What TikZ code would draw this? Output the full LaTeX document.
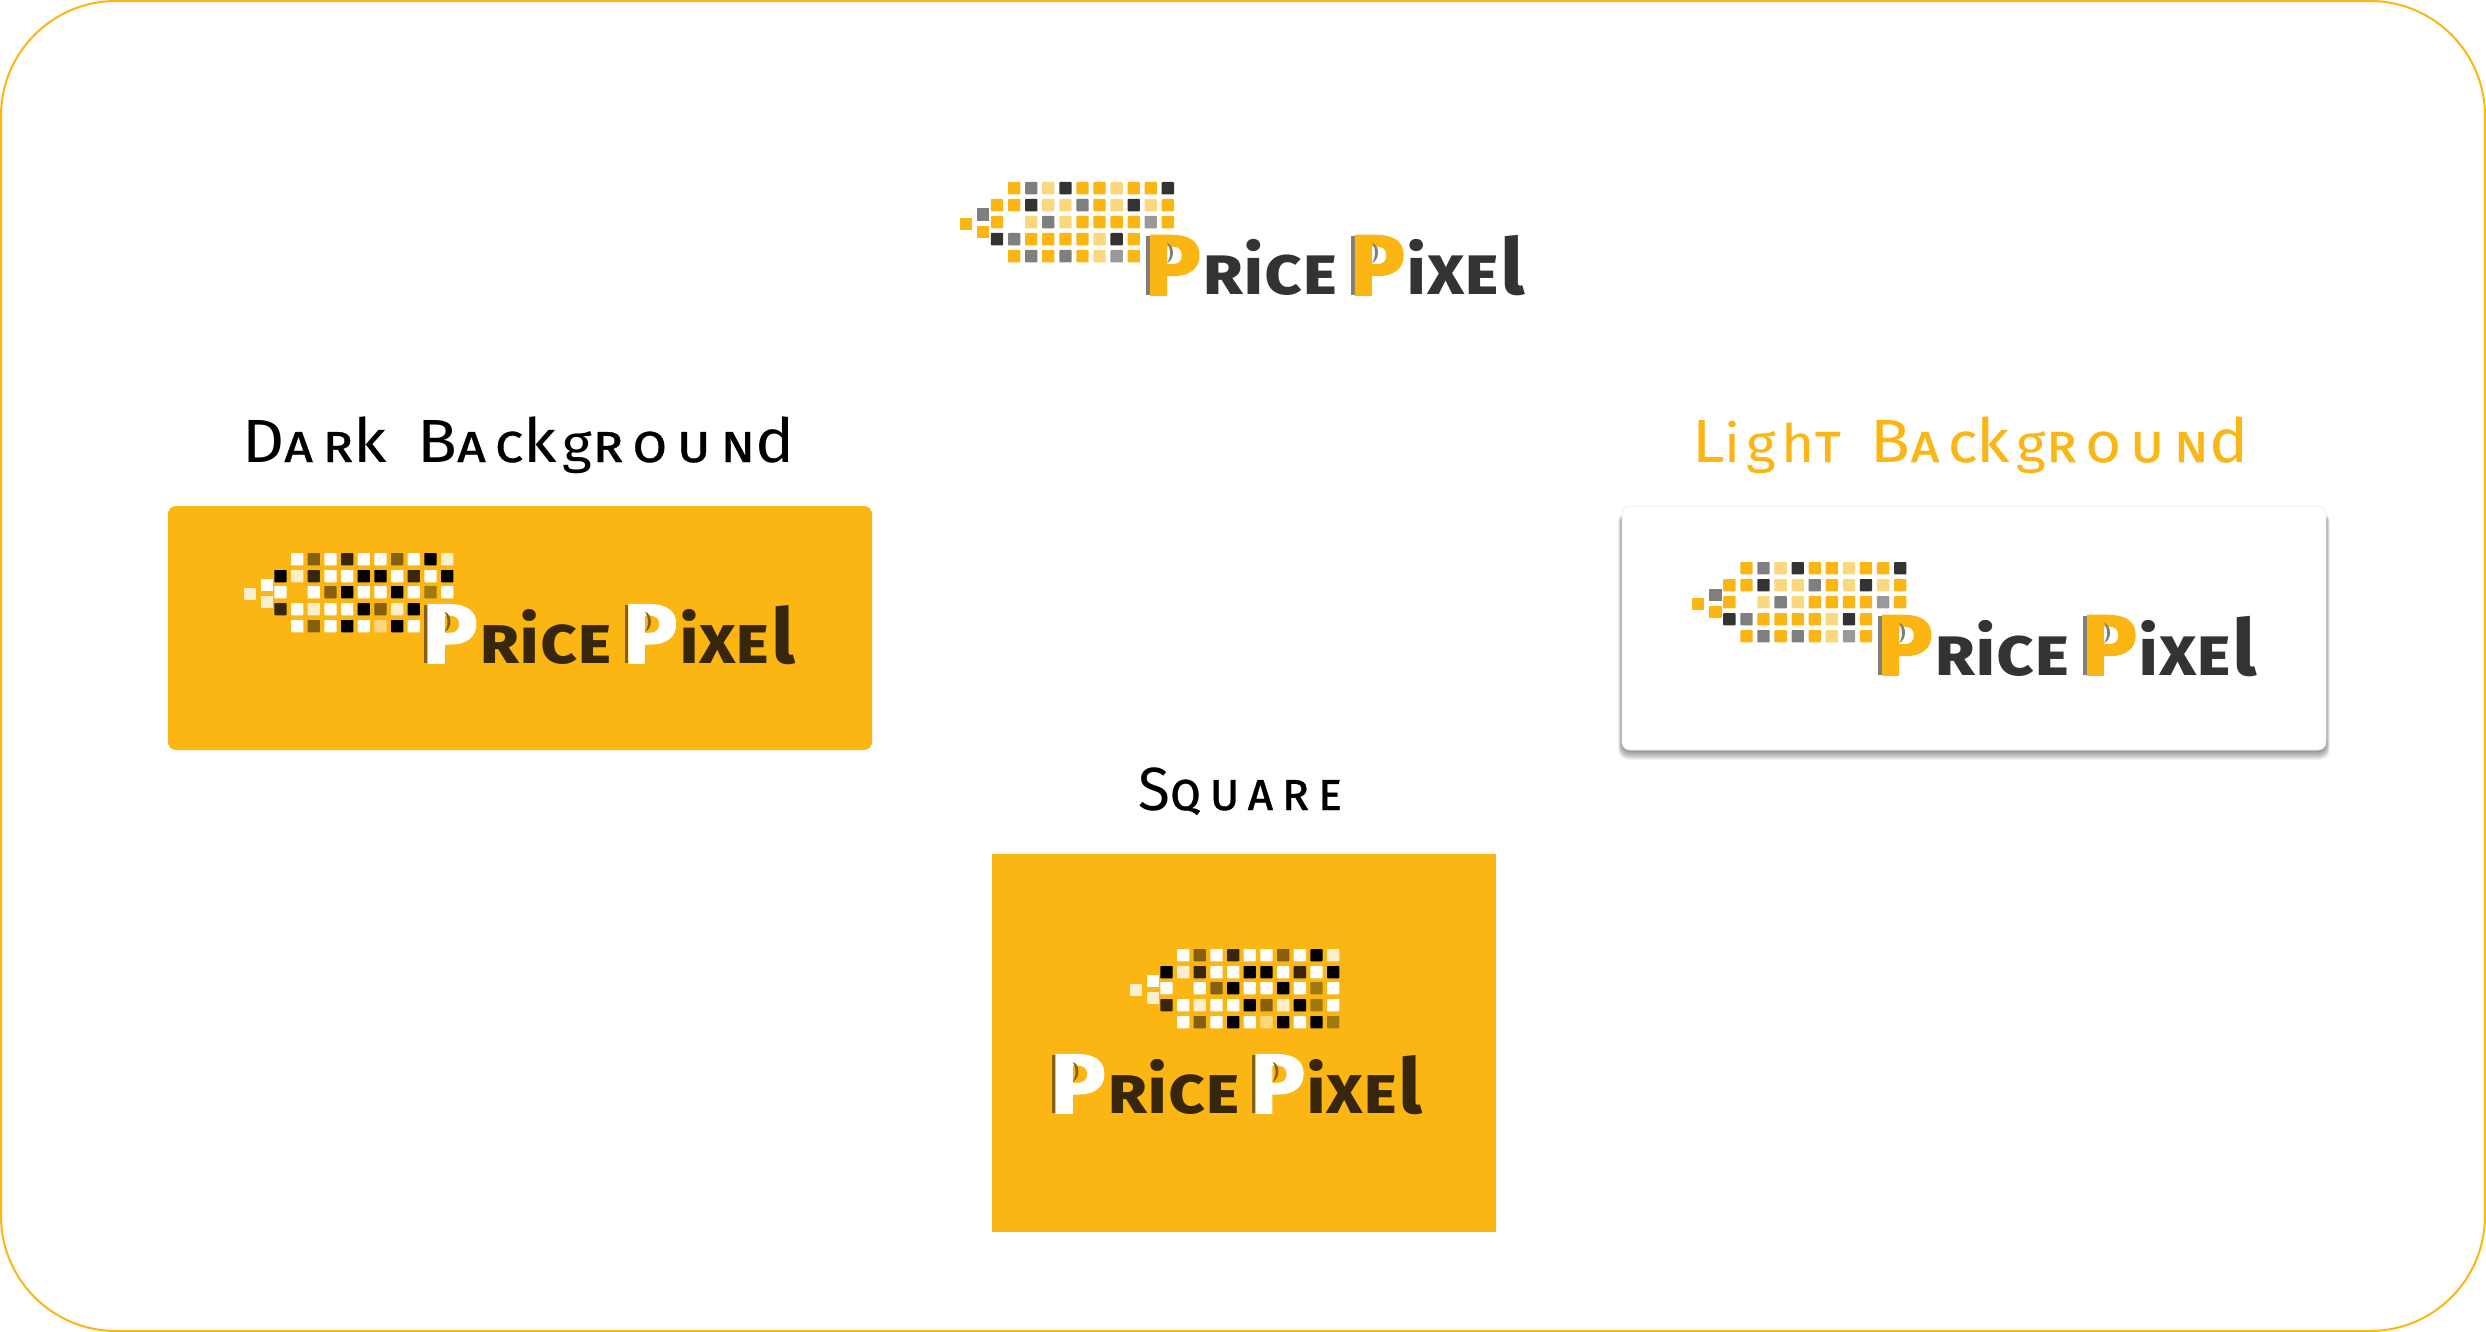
\documentclass[tikz,border=0pt]{standalone}
\usepackage{fontspec}
\setmainfont{Fira Sans}
\newfontfamily\scf[Letters=SmallCaps]{Fira Sans}
\newfontfamily\hvf[BoldFeatures={FakeBold=2.2}]{Fira Sans}
\definecolor{gd}{HTML}{FBB614}
\definecolor{lt}{HTML}{FBD77E}
\definecolor{md}{HTML}{7F7F7F}
\definecolor{mp}{HTML}{999999}
\definecolor{dk}{HTML}{333333}
\definecolor{wh}{HTML}{FFFFFF}
\definecolor{bk}{HTML}{000000}
\definecolor{br}{HTML}{38260A}
\definecolor{nb}{HTML}{86600F}
\definecolor{an}{HTML}{A07810}
\definecolor{cr}{HTML}{FDEFCB}
\definecolor{pl}{HTML}{FDD77F}
\tikzset{
  ttlnode/.style={anchor=base west,inner sep=0pt,outer sep=0pt},
  lognode/.style={anchor=base west,inner sep=0pt,outer sep=0pt},
}
% pixel row: x of col 0, y, pitch, first index, colours
\newcommand{\pixrow}[5]{%
  \foreach \c [count=\i from #4] in {#5}{%
    \ifx\c\nonecell\else
      \fill[\c,rounded corners=0.4pt] ({#1+\i*#3},#2) rectangle ++(12.3,12.3);
    \fi}}
\def\nonecell{xx}
% title letters
\newcommand{\tB}[1]{{\fontsize{30.5pt}{30pt}\selectfont #1}}
\newcommand{\tS}[1]{{\fontsize{26.5pt}{30pt}\scf\addfontfeature{LetterSpace=16,FakeBold=0.6}#1}}
\newcommand{\tL}[1]{{\fontsize{30.5pt}{30pt}\selectfont #1}}
\newcommand{\tG}[1]{{\fontsize{26.5pt}{30pt}\selectfont #1}}
\newcommand{\tk}{\kern2.6pt}
% logo
\newcommand{\lP}{{\fontsize{42.8pt}{40pt}\hvf\bfseries P}}
\newcommand{\lS}[1]{{\fontsize{34pt}{40pt}\scf\bfseries #1}}
\newcommand{\lI}[1]{{\fontsize{34pt}{40pt}\selectfont\bfseries #1}}
\newcommand{\lL}[1]{{\fontsize{39pt}{40pt}\selectfont\bfseries #1}}
% \logotext{x1}{x2}{baseline}{scale}{Pcolour}{textcolour}{stripe}
\newcommand{\logotext}[7]{%
  \foreach \xx/\nm in {#1/a,#2/b}{%
    \fill[#7] (\xx,{#3-59*#4}) rectangle ++({3.5*#4},{59*#4});
  }
  \node[lognode,scale=#4,text=#6] at ({#1-1*#4},#3) {\scalebox{1.08}[1]{\textcolor{#5}{\lP}\kern1pt\lS{r}\lI{i}\lS{ce}}};
  \node[lognode,scale=#4,text=#6] at ({#2-1*#4},#3) {\scalebox{1.065}[1]{\textcolor{#5}{\lP}\kern1pt\lI{i}\lS{xe}\kern0.8pt\lL{l}}};
  \foreach \xx/\nm in {#1/a,#2/b}{%
    \fill[#7] ({\xx+21*#4},{#3-52*#4}) .. controls ({\xx+29*#4},{#3-50*#4}) and ({\xx+29*#4},{#3-35*#4}) .. ({\xx+21*#4},{#3-32*#4})
       .. controls ({\xx+25*#4},{#3-37*#4}) and ({\xx+25*#4},{#3-47*#4}) .. cycle;
  }
}
\begin{document}
\begin{tikzpicture}[x=0.5pt,y=-0.5pt]
\useasboundingbox (0,0) rectangle (2486,1332);
\fill[white] (0,0) rectangle (2486,1332);
\draw[gd,line width=1pt,rounded corners=57.5pt] (1,1) rectangle (2485,1331);

% cards
\fill[gd,rounded corners=4pt] (168,506) rectangle (872,750);
\foreach \k in {1,...,8}{
  \fill[black,opacity=0.06,rounded corners=5pt] ({1622-\k*0.45},{506+6}) rectangle ({2326+\k*0.45},{750+1+\k*1.1});
}
\fill[white,rounded corners=4pt] (1622,506) rectangle (2326,750);
\draw[black!6,line width=0.4pt,rounded corners=4pt] (1622,506) rectangle (2326,750);
\fill[gd] (992,854) rectangle (1495.5,1231.5);

% titles
\node[ttlnode,text=bk] (t1) at (242,462) {\scalebox{1.075}[1]{\tB{D}\tS{ar}\tL{k}\kern14pt\tB{B}\tS{ac}\tL{k}\tk\tG{g}\tS{roun}\tL{d}}};
\node[ttlnode,text=gd] (t2) at (1692,462) {\scalebox{1.074}[1]{\tB{L}\tG{i}\tk\tG{g}\tk\tG{h}\tS{t}\kern14pt\tB{B}\tS{ac}\tL{k}\tk\tG{g}\tS{roun}\tL{d}}};
\node[ttlnode,text=bk] (t3) at (1138,810) {\scalebox{0.957}[1]{\tB{S}\tS{quare}}};

% top logo
\pixrow{1008}{182}{17.08}{0}{gd,md,lt,dk,gd,gd,lt,gd,gd,dk}
\pixrow{1008}{199}{17.08}{-1}{gd,gd,dk,lt,lt,md,gd,lt,dk,lt,gd}
\pixrow{1008}{216}{17.08}{-1}{gd,xx,lt,md,lt,gd,gd,gd,gd,mp,gd}
\pixrow{1008}{233}{17.08}{-1}{dk,md,gd,gd,gd,gd,lt,dk,gd}
\pixrow{1008}{250}{17.08}{0}{gd,md,gd,md,gd,lt,mp,gd}
\fill[gd] (960,218) rectangle ++(12.3,12.3);
\fill[md] (977,208.5) rectangle ++(12.3,12.3);
\fill[gd] (977,226) rectangle ++(12.3,12.3);
\logotext{1146}{1351}{295}{1}{gd}{dk}{md}

% dark logo
\pixrow{291}{553}{16.67}{0}{wh,nb,wh,br,wh,wh,nb,wh,bk,cr}
\pixrow{291}{570}{16.67}{-1}{bk,cr,br,wh,wh,bk,bk,wh,br,wh,bk}
\pixrow{291}{586}{16.67}{-1}{wh,xx,wh,nb,bk,wh,wh,bk,wh,an,wh}
\pixrow{291}{603}{16.67}{-1}{br,wh,cr,wh,wh,bk,nb,cr,bk}
\pixrow{291}{620}{16.67}{0}{wh,nb,wh,bk,wh,pl,bk,wh}
\fill[cr] (244,588) rectangle ++(12.3,12.3);
\fill[wh] (261,578.7) rectangle ++(12.3,12.3);
\fill[cr] (261,595.7) rectangle ++(12.3,12.3);
\logotext{424}{624.5}{663}{0.98}{wh}{br}{nb}

% light logo
\pixrow{1740.3}{562}{17.08}{0}{gd,md,lt,dk,gd,gd,lt,gd,gd,dk}
\pixrow{1740.3}{579}{17.08}{-1}{gd,gd,dk,lt,lt,md,gd,lt,dk,lt,gd}
\pixrow{1740.3}{596}{17.08}{-1}{gd,xx,lt,md,lt,gd,gd,gd,gd,mp,gd}
\pixrow{1740.3}{613}{17.08}{-1}{dk,md,gd,gd,gd,gd,lt,dk,gd}
\pixrow{1740.3}{630}{17.08}{0}{gd,md,gd,md,gd,lt,mp,gd}
\fill[gd] (1692,598) rectangle ++(12.3,12.3);
\fill[md] (1709.3,588.7) rectangle ++(12.3,12.3);
\fill[gd] (1709.3,605.7) rectangle ++(12.3,12.3);
\logotext{1878}{2083}{675}{1}{gd}{dk}{md}

% square logo
\pixrow{1177}{949}{16.67}{0}{wh,nb,wh,br,wh,wh,nb,wh,bk,cr}
\pixrow{1177}{966}{16.67}{-1}{bk,cr,br,wh,wh,bk,bk,wh,br,wh,bk}
\pixrow{1177}{982}{16.67}{-1}{wh,xx,wh,nb,bk,wh,wh,bk,wh,an,wh}
\pixrow{1177}{999}{16.67}{-1}{br,wh,cr,wh,wh,bk,nb,cr,bk,an,wh}
\pixrow{1177}{1016}{16.67}{0}{wh,nb,wh,bk,wh,pl,bk,wh,bk,an}
\fill[cr] (1130,984) rectangle ++(12.3,12.3);
\fill[wh] (1146.7,974.7) rectangle ++(12.3,12.3);
\fill[cr] (1146.7,991.7) rectangle ++(12.3,12.3);
\logotext{1052}{1252}{1113}{0.98}{wh}{br}{nb}
\end{tikzpicture}
\end{document}
